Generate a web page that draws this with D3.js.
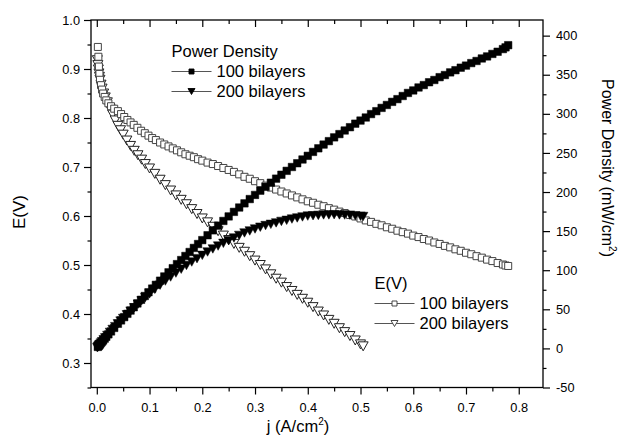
<!DOCTYPE html>
<html><head><meta charset="utf-8">
<script src="https://cdn.jsdelivr.net/npm/d3@7"></script>
<style>
html,body{margin:0;padding:0;background:#fff;}
svg{display:block;}
text{font-family:"Liberation Sans",Arial,Helvetica,sans-serif;fill:#000;}
</style></head>
<body>
<svg id="chart" width="621" height="441"></svg>
<script>
// ---------- data ----------
const j100 = [0.002,0.003,0.004,0.005,0.006,0.008,0.010,0.012,0.015,0.018,0.022,0.027,0.033,0.040,0.046,0.052,0.058,0.064,0.070,0.077,0.084,0.091,0.098,0.105,0.112,0.120,0.128,0.136,0.144,0.152,0.160,0.168,0.176,0.184,0.192,0.200,0.210,0.220,0.230,0.240,0.250,0.260,0.270,0.280,0.290,0.300,0.310,0.320,0.330,0.340,0.350,0.360,0.370,0.380,0.390,0.400,0.410,0.420,0.430,0.440,0.450,0.460,0.470,0.480,0.490,0.500,0.510,0.520,0.530,0.540,0.550,0.560,0.570,0.580,0.590,0.600,0.610,0.620,0.630,0.640,0.650,0.660,0.670,0.680,0.690,0.700,0.710,0.720,0.730,0.740,0.750,0.760,0.770,0.775,0.780];
const e100 = [0.945,0.925,0.905,0.890,0.878,0.867,0.858,0.850,0.843,0.836,0.830,0.824,0.819,0.814,0.808,0.802,0.796,0.791,0.786,0.780,0.774,0.769,0.764,0.759,0.755,0.750,0.746,0.742,0.738,0.734,0.730,0.726,0.723,0.720,0.716,0.713,0.709,0.706,0.702,0.698,0.694,0.690,0.685,0.680,0.676,0.671,0.667,0.662,0.658,0.654,0.650,0.646,0.642,0.638,0.634,0.630,0.627,0.623,0.620,0.616,0.613,0.609,0.606,0.602,0.599,0.595,0.591,0.588,0.584,0.581,0.577,0.574,0.570,0.567,0.564,0.560,0.557,0.553,0.550,0.546,0.543,0.539,0.536,0.532,0.529,0.525,0.522,0.518,0.515,0.511,0.508,0.504,0.501,0.499,0.498];
const p100 = [1.9,2.8,3.6,4.5,5.3,6.9,8.6,10.2,12.5,14.8,18.0,21.7,26.2,31.5,35.8,40.0,44.2,48.4,52.6,57.5,62.2,67.0,71.8,76.5,81.3,86.6,92.0,97.3,102.6,107.8,113.0,118.2,123.3,128.5,133.5,138.5,144.7,151.0,157.0,163.0,168.8,174.6,180.2,185.5,191.0,196.3,201.7,206.7,211.9,217.1,222.1,227.1,232.0,236.8,241.6,246.3,251.3,255.9,260.7,265.1,269.9,274.1,278.7,282.9,287.4,291.4,295.3,299.7,303.4,307.6,311.3,315.3,318.8,322.8,326.7,329.9,333.7,336.8,340.4,343.3,346.9,349.6,353.0,355.8,359.0,361.7,364.9,367.6,370.8,373.4,376.6,379.4,382.8,385.0,387.8];

const j200 = [0.001,0.002,0.003,0.004,0.005,0.006,0.008,0.010,0.013,0.016,0.020,0.025,0.030,0.035,0.040,0.045,0.050,0.057,0.064,0.071,0.078,0.085,0.092,0.100,0.110,0.120,0.130,0.140,0.150,0.160,0.170,0.180,0.190,0.200,0.210,0.220,0.230,0.240,0.250,0.260,0.270,0.280,0.290,0.300,0.310,0.320,0.330,0.340,0.350,0.360,0.370,0.380,0.390,0.400,0.410,0.420,0.430,0.440,0.450,0.460,0.470,0.480,0.490,0.500,0.505];
const e200 = [0.918,0.908,0.899,0.891,0.884,0.878,0.868,0.860,0.850,0.842,0.832,0.819,0.807,0.795,0.784,0.775,0.766,0.754,0.743,0.733,0.724,0.715,0.706,0.697,0.686,0.674,0.663,0.652,0.642,0.633,0.624,0.614,0.604,0.595,0.587,0.578,0.569,0.560,0.551,0.543,0.535,0.527,0.518,0.509,0.500,0.491,0.481,0.472,0.464,0.455,0.447,0.439,0.431,0.423,0.414,0.405,0.397,0.388,0.380,0.371,0.363,0.355,0.346,0.338,0.334];
const p200 = [0.9,1.8,2.7,3.6,4.4,5.3,6.9,8.6,11.1,13.5,16.6,20.5,24.2,27.8,31.4,34.9,38.3,43.0,47.6,52.0,56.5,60.8,65.0,69.7,75.5,80.9,86.2,91.3,96.3,101.3,106.1,110.5,114.8,119.0,123.3,127.2,130.9,134.4,137.8,141.2,144.5,147.6,150.2,152.7,155.0,157.1,158.7,160.5,162.4,163.8,165.4,166.8,168.1,169.2,169.7,170.1,170.7,170.7,171.0,170.7,170.6,170.4,169.5,169.0,168.7];

const xTicks = [0.0,0.1,0.2,0.3,0.4,0.5,0.6,0.7,0.8];
const xMinor = [0.05,0.15,0.25,0.35,0.45,0.55,0.65,0.75];
const yLTicks = [0.3,0.4,0.5,0.6,0.7,0.8,0.9,1.0];
const yLMinor = [0.25,0.35,0.45,0.55,0.65,0.75,0.85,0.95];
const yRTicks = [-50,0,50,100,150,200,250,300,350,400];
const yRMinor = [-25,25,75,125,175,225,275,325,375];

// ---------- layout ----------
const L = 91, R = 543, T = 20, B = 387.5;
const svg = d3.select("#chart");
const x = d3.scaleLinear().domain([-0.011, 0.846]).range([L, R]);
const yL = d3.scaleLinear().domain([0.25, 1.0]).range([B, T]);
const yR = d3.scaleLinear().domain([-50, 420]).range([B, T]);

function styleAxis(g){
  g.select(".domain").remove();
  g.selectAll(".tick line").attr("stroke","#000").attr("stroke-width",1.2);
  g.selectAll(".tick text").style("font-size","12.8px").style("font-family",'"Liberation Sans",Arial,sans-serif').attr("fill","#000");
}
const f1 = d => d.toFixed(1);
const fInt = d => String(d);   // plain hyphen for negatives, as in the original

// bottom
svg.append("g").attr("transform",`translate(0,${B})`)
  .call(d3.axisBottom(x).tickValues(xTicks).tickSize(7).tickPadding(8).tickFormat(f1))
  .call(styleAxis);
svg.append("g").attr("transform",`translate(0,${B})`)
  .call(d3.axisBottom(x).tickValues(xMinor).tickSize(4).tickFormat(""))
  .call(styleAxis);
// top (ticks inward)
svg.append("g").attr("transform",`translate(0,${T})`)
  .call(d3.axisBottom(x).tickValues(xTicks).tickSize(7).tickFormat(""))
  .call(styleAxis);
svg.append("g").attr("transform",`translate(0,${T})`)
  .call(d3.axisBottom(x).tickValues(xMinor).tickSize(4).tickFormat(""))
  .call(styleAxis);
// left
svg.append("g").attr("transform",`translate(${L},0)`)
  .call(d3.axisLeft(yL).tickValues(yLTicks).tickSize(7).tickPadding(4).tickFormat(f1))
  .call(styleAxis);
svg.append("g").attr("transform",`translate(${L},0)`)
  .call(d3.axisLeft(yL).tickValues(yLMinor).tickSize(3.5).tickFormat(""))
  .call(styleAxis);
// right
svg.append("g").attr("transform",`translate(${R},0)`)
  .call(d3.axisRight(yR).tickValues(yRTicks).tickSize(7).tickPadding(6).tickFormat(fInt))
  .call(styleAxis);
svg.append("g").attr("transform",`translate(${R},0)`)
  .call(d3.axisRight(yR).tickValues(yRMinor).tickSize(3.5).tickFormat(""))
  .call(styleAxis);

// frame
svg.append("rect").attr("x",L).attr("y",T).attr("width",R-L).attr("height",B-T)
  .attr("fill","none").attr("stroke","#000").attr("stroke-width",1.3);

// ---------- markers ----------
const plot = svg.append("g");
function sq(cx,cy,s){ return `M${cx-s/2},${cy-s/2}h${s}v${s}h${-s}Z`; }
function triDown(cx,cy,w,h){ return `M${cx-w/2},${cy-h/2}L${cx+w/2},${cy-h/2}L${cx},${cy+h/2}Z`; }

// E(V) 200 bilayers - open down triangles
plot.append("g").selectAll("path").data(d3.range(j200.length)).join("path")
  .attr("d",i=>triDown(x(j200[i]), yL(e200[i]), 10, 9))
  .attr("fill","#fff").attr("stroke","#222").attr("stroke-width",1);
// E(V) 100 bilayers - open squares
plot.append("g").selectAll("path").data(d3.range(j100.length)).join("path")
  .attr("d",i=>sq(x(j100[i]), yL(e100[i]), 7))
  .attr("fill","#fff").attr("stroke","#444").attr("stroke-width",1);
// Power density 100 - filled squares
plot.append("g").selectAll("path").data(d3.range(j100.length)).join("path")
  .attr("d",i=>sq(x(j100[i]), yR(p100[i]), 7.5))
  .attr("fill","#000").attr("stroke","#000").attr("stroke-width",0.5);
// Power density 200 - filled down triangles
plot.append("g").selectAll("path").data(d3.range(j200.length)).join("path")
  .attr("d",i=>triDown(x(j200[i]), yR(p200[i]), 9.5, 8.5))
  .attr("fill","#000").attr("stroke","#000").attr("stroke-width",0.5);

// ---------- legends ----------
function legend(x0, yTitle, title, items){
  const g = svg.append("g");
  g.append("text").attr("x",x0).attr("y",yTitle).style("font-size","16.5px").text(title);
  items.forEach((it,k)=>{
    const yb = yTitle + 20*(k+1);
    const ym = yb - 5.5;
    g.append("line").attr("x1",x0).attr("x2",x0+40).attr("y1",ym).attr("y2",ym)
      .attr("stroke","#555").attr("stroke-width",1);
    const cx = x0+20;
    const p = g.append("path").attr("fill",it.fill).attr("stroke",it.stroke).attr("stroke-width",0.9);
    if(it.shape==="sq") p.attr("d",sq(cx,ym,5)); else p.attr("d",triDown(cx,ym,7,6));
    g.append("text").attr("x",x0+45).attr("y",yb).style("font-size","16.5px").text(it.label);
  });
}
legend(171.5, 57, "Power Density", [
  {shape:"sq", fill:"#000", stroke:"#000", label:"100 bilayers"},
  {shape:"tri", fill:"#000", stroke:"#000", label:"200 bilayers"}
]);
legend(374.5, 289, "E(V)", [
  {shape:"sq", fill:"#fff", stroke:"#333", label:"100 bilayers"},
  {shape:"tri", fill:"#fff", stroke:"#333", label:"200 bilayers"}
]);

// ---------- axis titles ----------
const xt = svg.append("text").attr("x",298).attr("y",432).attr("text-anchor","middle").style("font-size","16.5px");
xt.append("tspan").text("j (A/cm");
xt.append("tspan").attr("dy",-7).style("font-size","10px").text("2");
xt.append("tspan").attr("dy",7).text(")");

svg.append("text").attr("transform","translate(25,212) rotate(-90)").attr("text-anchor","middle")
  .style("font-size","17px").text("E(V)");

const rt = svg.append("text").attr("transform","translate(602,168) rotate(90)").attr("text-anchor","middle").style("font-size","16px");
rt.append("tspan").text("Power Density (mW/cm");
rt.append("tspan").attr("dy",-7).style("font-size","10px").text("2");
rt.append("tspan").attr("dy",7).text(")");
</script>
</body></html>
